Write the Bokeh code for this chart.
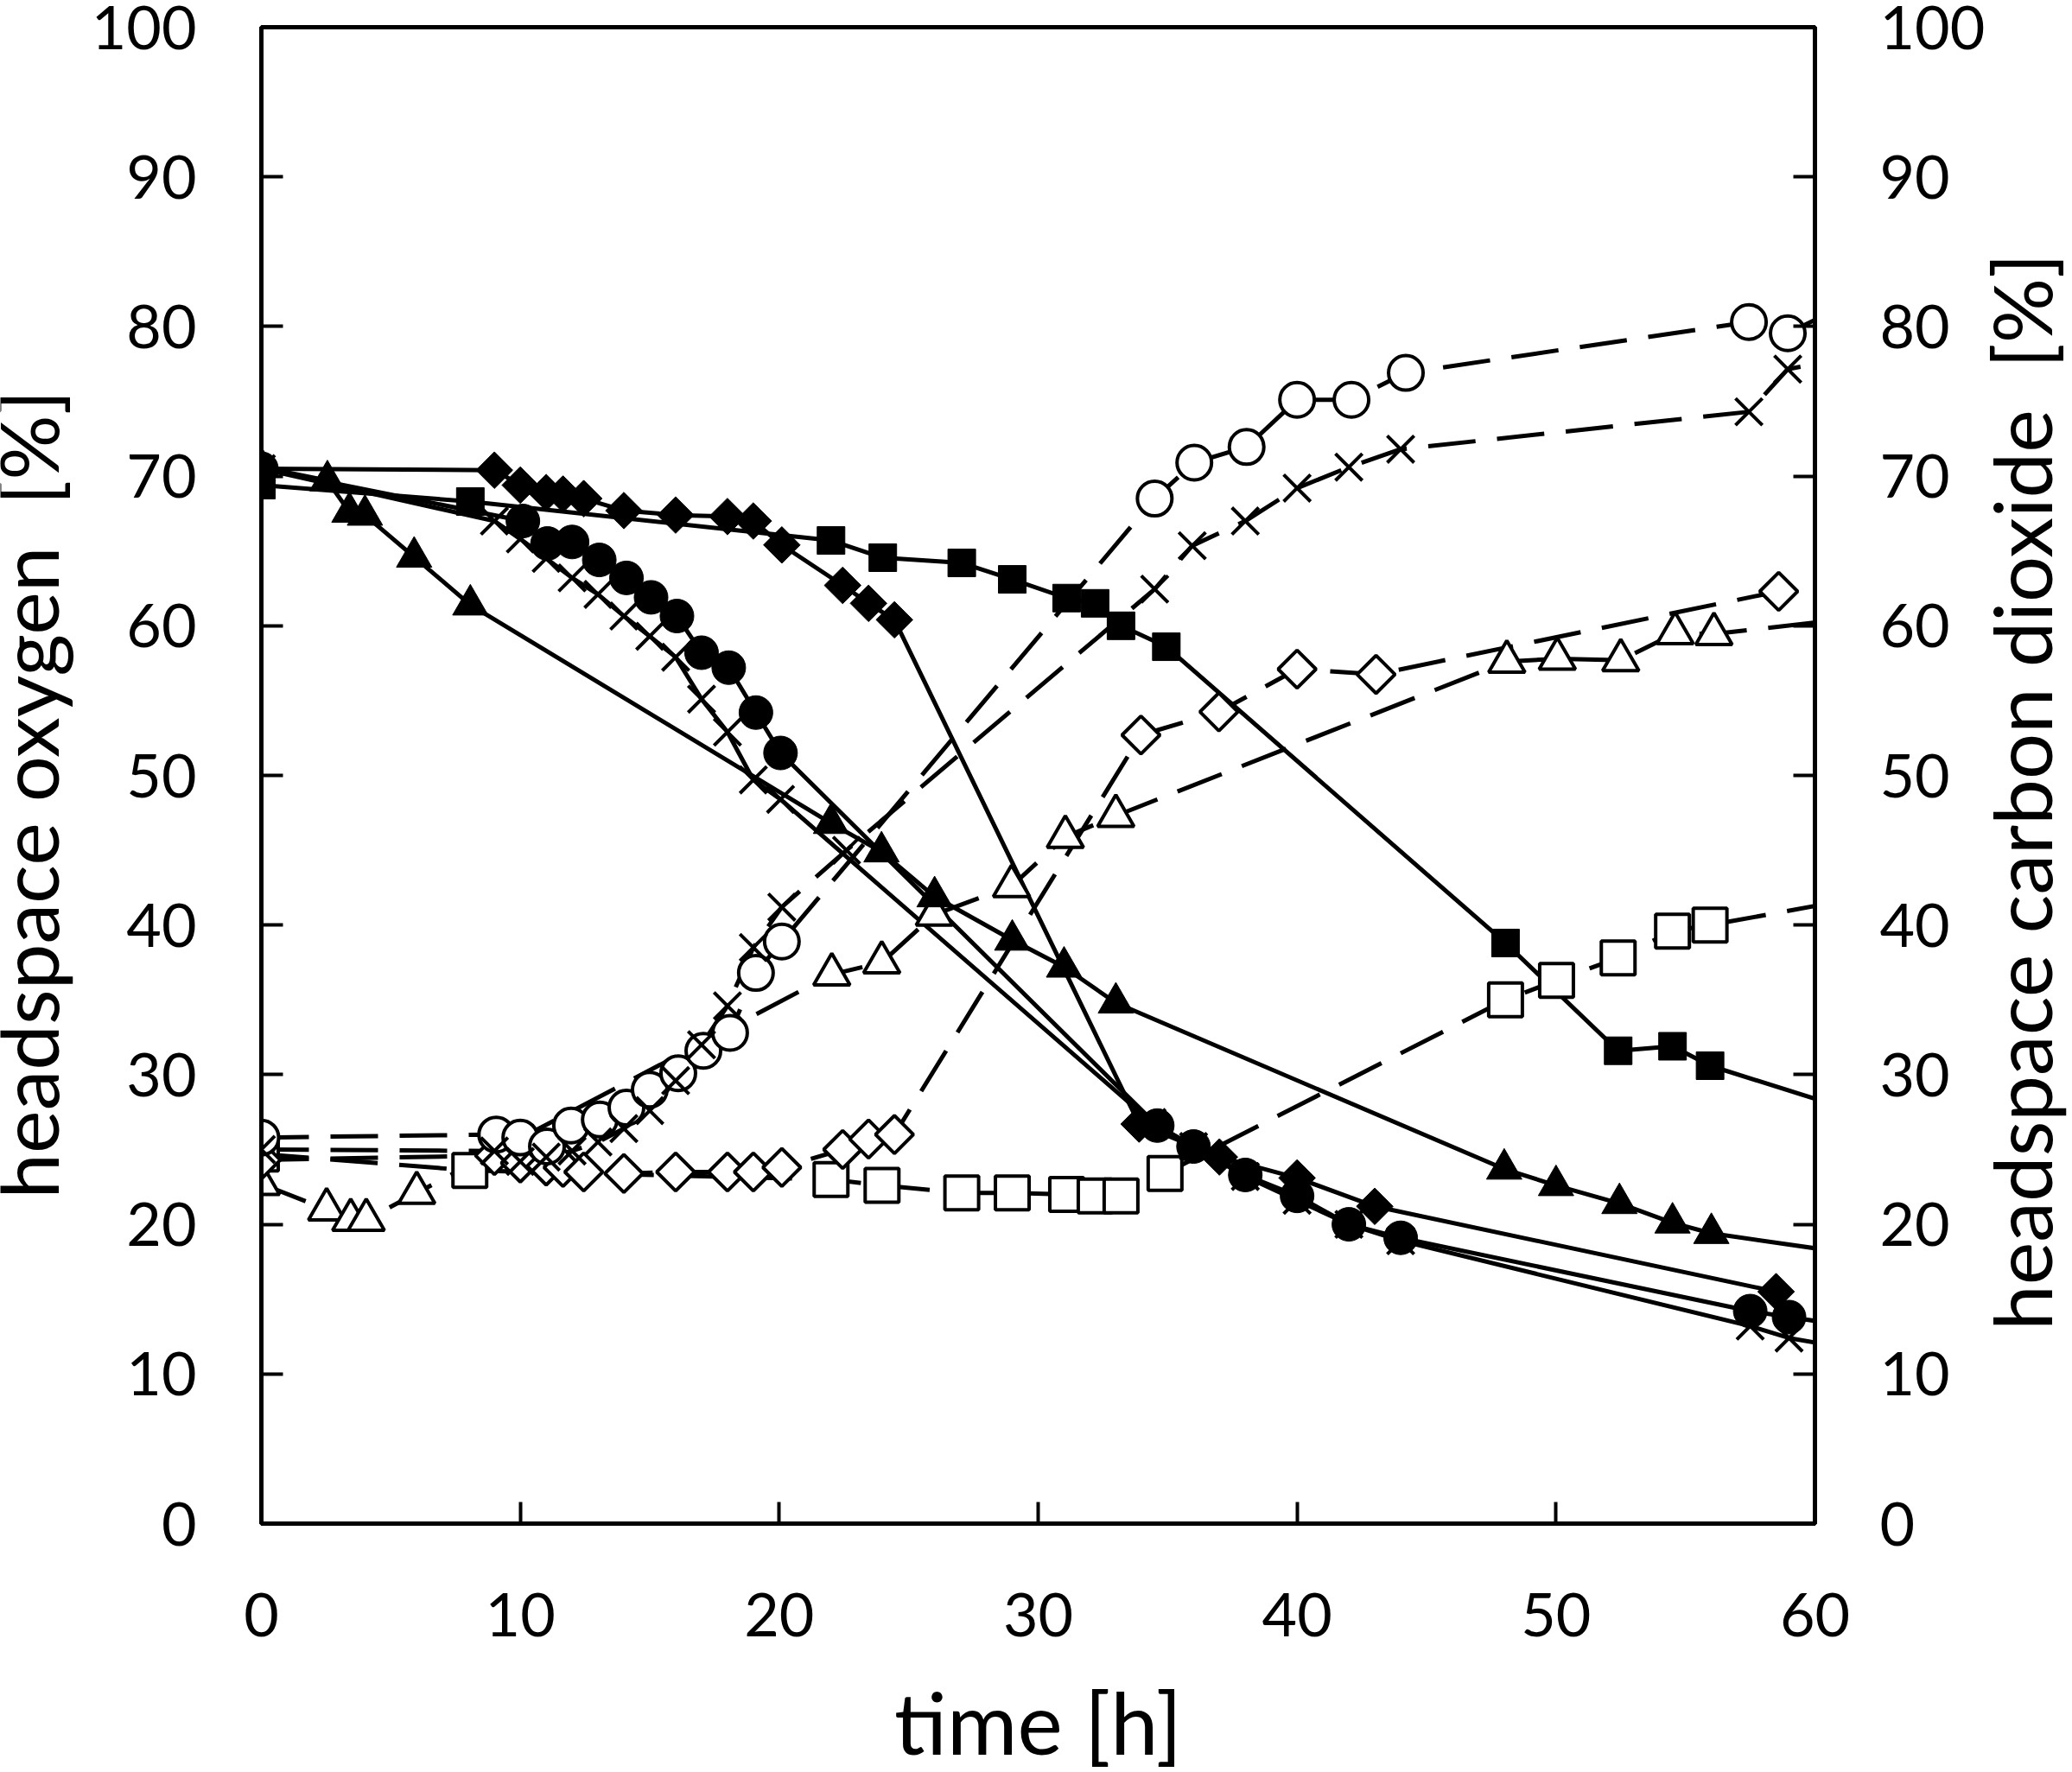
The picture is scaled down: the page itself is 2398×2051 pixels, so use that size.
import math
from bokeh.plotting import figure
from bokeh.layouts import row
from bokeh.models import Range1d, LinearAxis, FixedTicker, Label
from bokeh.embed import file_html
from bokeh.resources import INLINE

# ---------------- data (time in h, values in %) ----------------
# oxygen (filled markers, solid lines)
t_o2_circle = [0, 10.1, 11.05, 12.0, 13.05, 14.1, 15.05, 16.05, 17.0, 18.05, 19.1, 20.05,
               34.6, 36.0, 38.0, 40.0, 42.0, 44.0, 57.5, 59.0, 61.0]
o2_circle = [70.5, 67.0, 65.5, 65.6, 64.4, 63.2, 61.9, 60.65, 58.2, 57.2, 54.2, 51.5,
             26.6, 25.2, 23.3, 21.9, 20.0, 19.1, 14.2, 13.8, 13.3]

t_o2_x = [0, 9.0, 10.0, 11.0, 12.0, 13.0, 14.0, 15.0, 16.0, 17.0, 18.0, 19.0, 20.05,
          34.4, 36.0, 38.0, 40.0, 42.0, 44.0, 57.5, 59.0, 61.0]
o2_x = [70.5, 67.0, 65.8, 64.5, 63.2, 62.1, 60.65, 59.3, 57.9, 55.1, 52.9, 49.7, 48.4,
        26.8, 25.2, 23.2, 21.6, 20.0, 18.9, 13.2, 12.4, 11.8]

t_o2_diamond = [0, 9.0, 10.0, 11.0, 11.65, 12.45, 14.0, 16.0, 18.0, 19.0, 20.1, 22.45, 23.45, 24.45,
                33.9, 37.0, 40.0, 43.0, 58.5]
o2_diamond = [70.5, 70.4, 69.4, 68.9, 68.8, 68.5, 67.7, 67.4, 67.3, 67.0, 65.4, 62.7, 61.5, 60.4,
              26.7, 24.5, 23.1, 21.2, 15.5]

t_o2_triangle = [0, 2.55, 3.4, 4.0, 5.9, 8.07, 22.0, 23.95, 26.0, 29.0, 31.0, 33.0,
                 48.0, 50.0, 52.45, 54.5, 56.0, 62.0]
o2_triangle = [70.6, 69.7, 67.6, 67.4, 64.6, 61.4, 46.8, 44.9, 41.9, 39.0, 37.2, 34.8,
               23.7, 22.6, 21.4, 20.1, 19.4, 17.9]

t_o2_square = [0, 8.07, 22.0, 24.0, 27.05, 29.0, 31.1, 32.2, 33.2, 34.95, 48.05, 52.4, 54.5, 55.95, 62.0]
o2_square = [69.4, 68.3, 65.7, 64.55, 64.2, 63.1, 61.85, 61.5, 60.0, 58.6, 38.8, 31.6, 31.9, 30.6, 27.3]

# carbon dioxide (open markers, dashed lines)
t_co2_circle = [0, 9.07, 10.0, 11.03, 11.96, 13.07, 14.1, 15.0, 16.1, 17.07, 18.1, 19.1, 20.1,
                34.5, 36.03, 38.05, 40.0, 42.1, 44.2, 57.45, 58.95, 61.0]
co2_circle = [25.8, 26.0, 25.8, 25.2, 26.6, 27.0, 27.8, 29.0, 30.1, 31.6, 32.8, 36.8, 38.9,
              68.5, 70.9, 71.95, 75.1, 75.1, 76.9, 80.3, 79.55, 81.3]

t_co2_x = [0, 9.0, 10.0, 11.0, 12.0, 13.0, 14.0, 15.0, 16.0, 17.0, 18.0, 19.0, 20.1, 22.6,
           34.5, 35.95, 38.0, 40.0, 42.0, 44.0, 57.45, 58.95, 61.0]
co2_x = [25.0, 24.9, 24.2, 24.5, 24.9, 25.5, 26.4, 27.6, 29.6, 32.0, 34.6, 38.5, 41.2, 45.0,
         62.45, 65.35, 67.0, 69.2, 70.6, 71.8, 74.3, 77.15, 77.8]

t_co2_diamond = [0, 9.0, 10.0, 11.0, 11.65, 12.45, 14.0, 16.0, 18.0, 19.0, 20.1, 22.45, 23.45, 24.45,
                 33.97, 36.98, 40.0, 43.05, 58.6]
co2_diamond = [24.3, 24.6, 24.1, 23.9, 23.8, 23.5, 23.4, 23.5, 23.5, 23.5, 23.8, 25.0, 25.7, 26.0,
               52.7, 54.25, 57.1, 56.75, 62.3]

t_co2_triangle = [0, 2.52, 3.45, 4.05, 6.0, 22.03, 23.96, 25.99, 28.97, 31.05, 33.0,
                  48.1, 50.05, 52.5, 54.6, 56.1, 62.0]
co2_triangle = [22.7, 21.0, 20.3, 20.3, 22.1, 36.7, 37.5, 40.7, 42.6, 45.9, 47.3,
                57.6, 57.8, 57.7, 59.5, 59.45, 60.6]

t_co2_square = [0, 8.05, 22.0, 23.97, 27.05, 29.0, 31.1, 32.2, 33.2, 34.9,
                48.05, 50.02, 52.4, 54.5, 55.95, 62.0]
co2_square = [24.7, 23.6, 23.0, 22.6, 22.1, 22.1, 22.0, 21.9, 21.9, 23.4,
              35.0, 36.3, 37.8, 39.6, 40.0, 41.9]

x_ticks = [0, 10, 20, 30, 40, 50, 60]
y_ticks = [0, 10, 20, 30, 40, 50, 60, 70, 80, 90, 100]

x_label = "time [h]"
y_label_left = "headspace oxygen\u00a0 [%]"
y_label_right = "headspace carbon dioxide\u00a0 [%]"

FONT = "Lato"
H = 2049
FW, FH = 1798, 1732
TOP = 31
BOTTOM = H - TOP - FH
LEFT_STRIP, RIGHT_STRIP = 100, 96
MB_LEFT, MB_RIGHT = 202, 200

fig = figure(frame_width=FW, frame_height=FH, x_range=Range1d(0, 60), y_range=Range1d(0, 100),
             output_backend="svg", toolbar_location=None,
             min_border_left=MB_LEFT, min_border_right=MB_RIGHT, min_border_top=TOP,
             min_border_bottom=BOTTOM)
fig.grid.visible = False
fig.outline_line_color = "black"
fig.outline_line_width = 5
fig.background_fill_color = "white"
fig.border_fill_color = "white"

right_axis = LinearAxis()
fig.add_layout(right_axis, "right")

for ax in [fig.xaxis[0], fig.yaxis[0], right_axis]:
    ax.axis_line_width = 5
    ax.axis_line_color = "black"
    ax.major_tick_line_width = 4
    ax.major_tick_line_color = "black"
    ax.major_tick_in = 25
    ax.major_tick_out = 0
    ax.minor_tick_line_color = None
    ax.major_label_text_font = FONT
    ax.major_label_text_font_size = "70px"
    ax.major_label_text_color = "black"
    ax.major_label_standoff = 75

fig.xaxis[0].ticker = FixedTicker(ticks=x_ticks)
fig.xaxis[0].major_label_standoff = 80
fig.xaxis[0].axis_label = x_label
fig.xaxis[0].axis_label_text_font = FONT
fig.xaxis[0].axis_label_text_font_size = "99px"
fig.xaxis[0].axis_label_text_font_style = "normal"
fig.xaxis[0].axis_label_text_color = "black"
fig.xaxis[0].axis_label_standoff = 36
fig.yaxis[0].ticker = FixedTicker(ticks=y_ticks)
right_axis.ticker = FixedTicker(ticks=y_ticks)

LW = 5
DASH = "55 25"

solid = [(t_o2_circle, o2_circle), (t_o2_x, o2_x), (t_o2_diamond, o2_diamond),
         (t_o2_triangle, o2_triangle), (t_o2_square, o2_square)]
dashed = [(t_co2_circle, co2_circle), (t_co2_x, co2_x), (t_co2_diamond, co2_diamond),
          (t_co2_triangle, co2_triangle), (t_co2_square, co2_square)]
for t, v in dashed:
    fig.line(t, v, line_color="black", line_width=LW, line_dash=DASH)
for t, v in solid:
    fig.line(t, v, line_color="black", line_width=LW)

# open markers (CO2)
op = dict(fill_color="white", line_color="black", line_width=4)
fig.scatter(t_co2_square, co2_square, marker="square", size=39, **op)
fig.scatter(t_co2_triangle, co2_triangle, marker="triangle", size=42, **op)
fig.scatter(t_co2_diamond, co2_diamond, marker="square", angle=math.pi / 4, size=31, **op)
fig.scatter(t_co2_circle, co2_circle, marker="circle", size=40, **op)
fig.scatter(t_co2_x, co2_x, marker="x", size=44, line_color="black", line_width=4)

# filled markers (O2)
fp = dict(fill_color="black", line_color="black", line_width=1)
fig.scatter(t_o2_square, o2_square, marker="square", size=32, **fp)
fig.scatter(t_o2_triangle, o2_triangle, marker="triangle", size=41, **fp)
fig.scatter(t_o2_diamond, o2_diamond, marker="square", angle=math.pi / 4, size=30, **fp)
fig.scatter(t_o2_circle, o2_circle, marker="circle", size=39, **fp)
fig.scatter(t_o2_x, o2_x, marker="x", size=44, line_color="black", line_width=4)


def label_strip(width, text, x, center_from_top):
    # the strip's frame is aligned with the main frame (top TOP, bottom border BOTTOM)
    s = figure(width=width, height=H, x_range=Range1d(0, 1), y_range=Range1d(0, 1),
               output_backend="svg", toolbar_location=None,
               x_axis_type=None, y_axis_type=None, min_border=0)
    s.outline_line_color = None
    s.grid.visible = False
    s.background_fill_color = "white"
    s.border_fill_color = "white"
    s.add_layout(Label(x=x, y=(TOP + FH) - center_from_top, x_units="screen", y_units="screen",
                       angle=math.pi / 2, text=text, text_font=FONT, text_font_size="94px",
                       text_color="black", text_align="center", text_baseline="middle"))
    return s


left_strip = label_strip(LEFT_STRIP, y_label_left, 31, 924)
right_strip = label_strip(RIGHT_STRIP, y_label_right, 38, 921)

p = row(left_strip, fig, right_strip, spacing=0)

open("out.html", "w").write(file_html(p, INLINE))
